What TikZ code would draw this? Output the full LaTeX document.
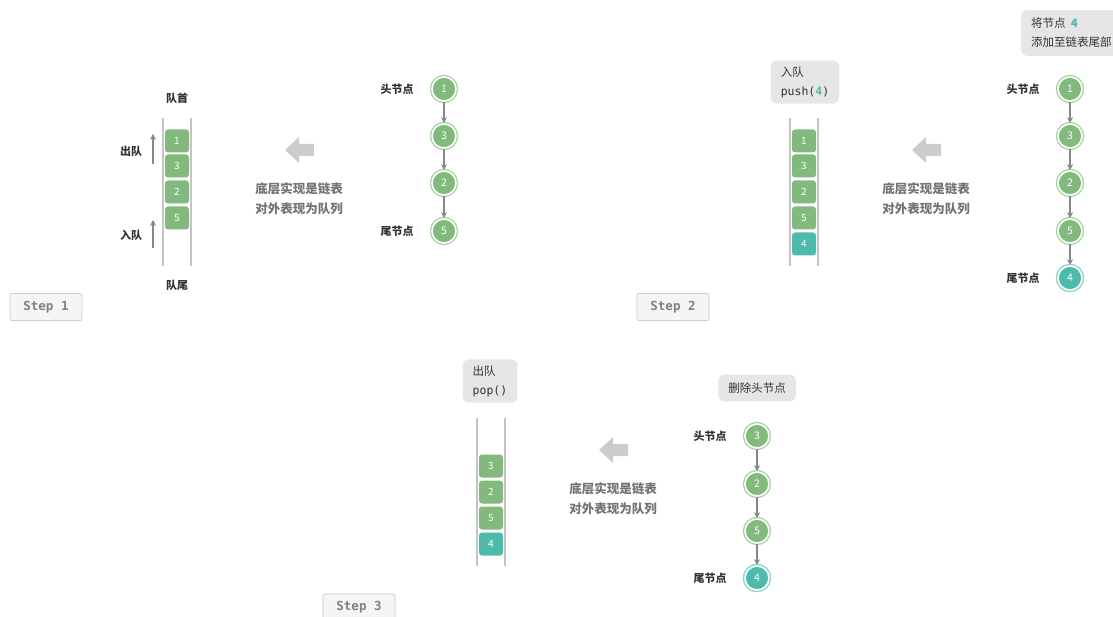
\documentclass[tikz,border=0pt]{standalone}
\usepackage{fontspec}
\setmainfont{Noto Sans CJK SC}
\setmonofont{DejaVu Sans Mono}
\usetikzlibrary{arrows.meta}
\definecolor{qgreen}{RGB}{130,185,125}
\definecolor{qring}{RGB}{170,212,165}
\definecolor{qteal}{RGB}{78,186,172}
\definecolor{tring}{RGB}{150,215,205}
\definecolor{qline}{RGB}{196,196,196}
\definecolor{edgegray}{RGB}{135,135,135}
\definecolor{labeltxt}{RGB}{50,50,50}
\definecolor{notetxt}{RGB}{115,115,115}
\definecolor{bigarrow}{RGB}{204,204,204}
\definecolor{callfill}{RGB}{230,230,230}
\definecolor{stepfill}{RGB}{245,245,245}
\definecolor{stepdraw}{RGB}{205,205,205}
\definecolor{steptxt}{RGB}{128,128,128}
\tikzset{
  qlinestyle/.style={draw=qline, line width=1.5pt},
  qbox/.style={rounded corners=3pt, fill=qgreen, minimum width=24pt, minimum height=23pt, inner sep=0pt, text=white, font=\fontsize{10}{10}\selectfont},
  qboxt/.style={qbox, fill=qteal},
  lnode/.style={circle, fill=qgreen, draw=white, line width=1.6pt, minimum size=24pt, inner sep=0pt, text=white, font=\fontsize{10.5}{10}\selectfont, preaction={draw=qring, line width=4.4pt}},
  lnodet/.style={lnode, fill=qteal, preaction={draw=tring, line width=4.4pt}},
  ledge/.style={draw=edgegray, line width=1.2pt, -{Stealth[length=6pt,width=6pt]}},
  lab/.style={text=labeltxt, font=\fontsize{11}{12}\selectfont\bfseries},
  note/.style={text=notetxt, font=\fontsize{12.5}{14}\selectfont\bfseries, align=center},
  callout/.style={fill=callfill, rounded corners=6pt, text=labeltxt, font=\fontsize{11.5}{13}\selectfont, align=left, inner xsep=10pt, inner ysep=6pt},
  stepbtn/.style={fill=stepfill, draw=stepdraw, line width=0.8pt, rounded corners=2pt, text=steptxt, font=\fontsize{12.5}{14}\selectfont\ttfamily\bfseries, minimum width=72pt, minimum height=27pt, inner sep=0pt},
  uparr/.style={draw=edgegray, line width=1.3pt, -{Stealth[length=6pt,width=6pt]}}
}
\newcommand{\bigleft}[2]{%
  \fill[bigarrow] (#1-14,#2) -- (#1,#2-13) -- (#1,#2-6) -- (#1+15,#2-6) -- (#1+15,#2+6) -- (#1,#2+6) -- (#1,#2+13) -- cycle;}
\begin{document}
\begin{tikzpicture}[x=1pt,y=-1pt]
\useasboundingbox (0,0) rectangle (1113,617);

% ================= Step 1 =================
\draw[qlinestyle] (163,118) coordinate (s1la) -- (163,266) coordinate (s1lb);
\draw[qlinestyle] (191,118) coordinate (s1ra) -- (191,266) coordinate (s1rb);
\node[qbox] (s1q1) at (177,141) {1};
\node[qbox] (s1q2) at (177,166) {3};
\node[qbox] (s1q3) at (177,192) {2};
\node[qbox] (s1q4) at (177,218) {5};
\node[lab] (s1head) at (177,98) {队首};
\node[lab] (s1tail) at (177,285) {队尾};
\node[lab] (s1out) at (131,151) {出队};
\node[lab] (s1in) at (131,235) {入队};
\coordinate (s1oa) at (153,164); \coordinate (s1ob) at (153,134);
\coordinate (s1ia) at (153,248); \coordinate (s1ib) at (153,220);
\draw[uparr] (s1oa) -- (s1ob);
\draw[uparr] (s1ia) -- (s1ib);

\bigleft{299}{150}
\node[note] (s1note) at (299,199) {底层实现是链表\\[6pt]对外表现为队列};

\node[lnode] (s1n1) at (444,89) {1};
\node[lnode] (s1n2) at (444,136) {3};
\node[lnode] (s1n3) at (444,183) {2};
\node[lnode] (s1n4) at (444,231) {5};
\draw[ledge] (s1n1) -- (s1n2);
\draw[ledge] (s1n2) -- (s1n3);
\draw[ledge] (s1n3) -- (s1n4);
\node[lab] (s1hl) at (397,89) {头节点};
\node[lab] (s1tl) at (397,231) {尾节点};

\node[stepbtn] (step1) at (46,307) {Step 1};

% ================= Step 2 =================
\node[callout] (s2call) at (805,82) {入队\\[6pt]\texttt{push(}{\color{qteal}\texttt{\textbf{4}}}\texttt{)}};
\draw[qlinestyle] (790,118) -- (790,266);
\draw[qlinestyle] (818,118) -- (818,266);
\node[qbox] (s2q1) at (804,141) {1};
\node[qbox] (s2q2) at (804,166) {3};
\node[qbox] (s2q3) at (804,192) {2};
\node[qbox] (s2q4) at (804,218) {5};
\node[qboxt] (s2q5) at (804,244) {4};

\bigleft{926}{150}
\node[note] (s2note) at (926,199) {底层实现是链表\\[6pt]对外表现为队列};

\node[callout, anchor=north west, inner ysep=8pt] (s2call2) at (1021,10) {将节点\ \ {\color{qteal}\textbf{4}}\\[6pt]添加至链表尾部};
\node[lnode] (s2n1) at (1070,89) {1};
\node[lnode] (s2n2) at (1070,136) {3};
\node[lnode] (s2n3) at (1070,183) {2};
\node[lnode] (s2n4) at (1070,231) {5};
\node[lnodet] (s2n5) at (1070,278) {4};
\draw[ledge] (s2n1) -- (s2n2);
\draw[ledge] (s2n2) -- (s2n3);
\draw[ledge] (s2n3) -- (s2n4);
\draw[ledge] (s2n4) -- (s2n5);
\node[lab] (s2hl) at (1023,89) {头节点};
\node[lab] (s2tl) at (1023,278) {尾节点};

\node[stepbtn] (step2) at (673,307) {Step 2};

% ================= Step 3 =================
\node[callout] (s3call) at (490,381) {出队\\[6pt]\texttt{pop()}};
\draw[qlinestyle] (477,418) -- (477,566);
\draw[qlinestyle] (505,418) -- (505,566);
\node[qbox] (s3q1) at (491,466) {3};
\node[qbox] (s3q2) at (491,492) {2};
\node[qbox] (s3q3) at (491,518) {5};
\node[qboxt] (s3q4) at (491,544) {4};

\bigleft{613}{450}
\node[note] (s3note) at (613,499) {底层实现是链表\\[6pt]对外表现为队列};

\node[callout, inner ysep=8pt] (s3call2) at (757,388) {删除头节点};
\node[lnode] (s3n1) at (757,436) {3};
\node[lnode] (s3n2) at (757,484) {2};
\node[lnode] (s3n3) at (757,531) {5};
\node[lnodet] (s3n4) at (757,578) {4};
\draw[ledge] (s3n1) -- (s3n2);
\draw[ledge] (s3n2) -- (s3n3);
\draw[ledge] (s3n3) -- (s3n4);
\node[lab] (s3hl) at (710,436) {头节点};
\node[lab] (s3tl) at (710,578) {尾节点};

\node[stepbtn] (step3) at (359,607.5) {Step 3};
\end{tikzpicture}
\end{document}
